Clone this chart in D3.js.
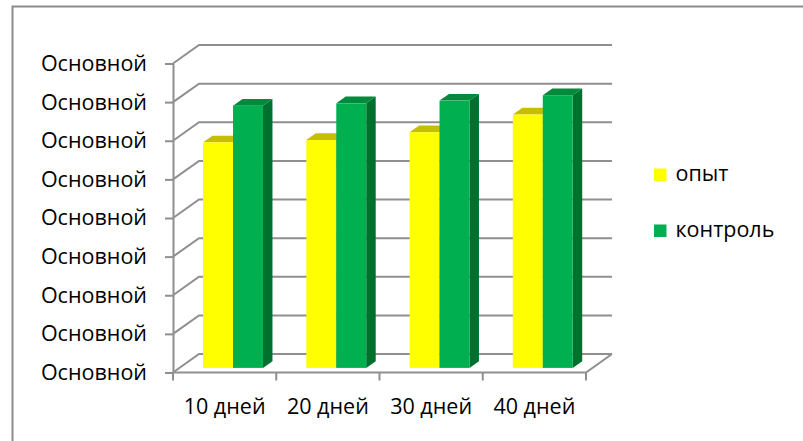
<!DOCTYPE html>
<html>
<head>
<meta charset="utf-8">
<title>опыт / контроль</title>
<script src="https://cdn.jsdelivr.net/npm/d3@7"></script>
<style>
    body{ margin:0; background:#fff; }
    svg{ display:block; font-family:"Open Sans", "Noto Sans", sans-serif; }
</style>
</head>
<body>
<svg id="chart" width="803" height="441"></svg>
<script>
// data
var categories = ["10 дней", "20 дней", "30 дней", "40 дней"];
var seriesNames = ["опыт", "контроль"];
var opyt = [58.4, 59.0, 61.0, 65.6];
var kontrol = [67.9, 68.5, 69.2, 70.6];
var yTicks = [0, 10, 20, 30, 40, 50, 60, 70, 80];
var yTickLabels = ["Основной", "Основной", "Основной", "Основной", "Основной",
                   "Основной", "Основной", "Основной", "Основной"];

var colors = {
    "опыт":     {front:"#ffff00", top:"#c6be00", side:"#a8a200"},
    "контроль": {front:"#00b050", top:"#008a3c", side:"#00702f"}
};

var svg = d3.select("#chart");
var gridColor = "#8f8f8f";
var fontSize = "21.5px";

// depth offsets (oblique 3d look)
var wall = {dx:26, dy:-18.5};
var face = {dx:8.4, dy:-4.6};
var depth = {dx:9.5, dy:-6.7};

var y = d3.scaleLinear().domain([0, 80]).range([372.5, 63.5]);
var x = d3.scaleBand().domain(categories).range([173, 586])
    .paddingInner(0.42).paddingOuter(0.21);
var xs = d3.scaleBand().domain(seriesNames).range([0, x.bandwidth()]);

// outer border
svg.append("rect")
    .attr("x", 12.5).attr("y", 6.5)
    .attr("width", 820).attr("height", 460)
    .attr("fill", "none")
    .attr("stroke", "#8c8c8c")
    .attr("stroke-width", 2);

// walls: side diagonals + back gridlines
var x0 = x.range()[0], x1 = x.range()[1];
svg.append("g").selectAll("path")
    .data(yTicks)
    .enter()
    .append("path")
    .attr("d", function(d) {
        var yy = y(d);
        return "M" + x0 + "," + yy +
               "L" + (x0 + wall.dx) + "," + (yy + wall.dy) +
               "L" + (x1 + wall.dx) + "," + (yy + wall.dy);
    })
    .attr("fill", "none")
    .attr("stroke", gridColor)
    .attr("stroke-width", 2);

// floor front edge and right diagonal
svg.append("path")
    .attr("d", "M" + x0 + "," + y(0) + "L" + x1 + "," + y(0) +
               "L" + (x1 + wall.dx) + "," + (y(0) + wall.dy))
    .attr("fill", "none")
    .attr("stroke", gridColor)
    .attr("stroke-width", 2);

// category boundary ticks
svg.append("g").selectAll("line")
    .data(d3.range(categories.length + 1))
    .enter()
    .append("line")
    .attr("x1", function(i) { return x0 + i * x.step(); })
    .attr("x2", function(i) { return x0 + i * x.step(); })
    .attr("y1", y(0))
    .attr("y2", y(0) + 8)
    .attr("stroke", gridColor)
    .attr("stroke-width", 2);

// y axis
var yAxis = d3.axisLeft(y)
    .tickValues(yTicks)
    .tickFormat(function(d, i) { return yTickLabels[i]; })
    .tickSizeInner(8)
    .tickSizeOuter(0)
    .tickPadding(18);
var gy = svg.append("g")
    .attr("transform", "translate(" + x0 + ",0)")
    .call(yAxis);
gy.selectAll("path, line").attr("stroke", gridColor).attr("stroke-width", 2);
gy.selectAll("text")
    .attr("fill", "#000")
    .style("font-size", fontSize)
    .style("font-family", "\"Open Sans\", sans-serif");

// category labels
svg.append("g").selectAll("text")
    .data(categories)
    .enter()
    .append("text")
    .attr("x", function(d) { return x(d) + x.bandwidth() / 2; })
    .attr("y", 414)
    .attr("text-anchor", "middle")
    .style("font-size", fontSize)
    .text(function(d) { return d; });

// bars
var rows = [];
categories.forEach(function(c, i) {
    rows.push({cat:c, s:"опыт", v:opyt[i]});
    rows.push({cat:c, s:"контроль", v:kontrol[i]});
});

var bars = svg.append("g").selectAll("g")
    .data(rows)
    .enter()
    .append("g");

function bx(d) { return x(d.cat) + xs(d.s) + face.dx; }
function by(d) { return y(d.v) + face.dy; }
function bb(d) { return y(0) + face.dy; }

bars.append("path")  // side
    .attr("d", function(d) {
        var r = bx(d) + xs.bandwidth();
        return "M" + r + "," + by(d) +
               "L" + (r + depth.dx) + "," + (by(d) + depth.dy) +
               "L" + (r + depth.dx) + "," + (bb(d) + depth.dy) +
               "L" + r + "," + bb(d) + "Z";
    })
    .attr("fill", function(d) { return colors[d.s].side; });

bars.append("path")  // top
    .attr("d", function(d) {
        var l = bx(d), r = l + xs.bandwidth();
        return "M" + l + "," + by(d) +
               "L" + (l + depth.dx) + "," + (by(d) + depth.dy) +
               "L" + (r + depth.dx) + "," + (by(d) + depth.dy) +
               "L" + r + "," + by(d) + "Z";
    })
    .attr("fill", function(d) { return colors[d.s].top; });

bars.append("rect")  // front
    .attr("x", bx)
    .attr("y", by)
    .attr("width", xs.bandwidth())
    .attr("height", function(d) { return bb(d) - by(d); })
    .attr("fill", function(d) { return colors[d.s].front; });

// legend
var legend = svg.append("g").selectAll("g")
    .data(seriesNames)
    .enter()
    .append("g")
    .attr("transform", function(d, i) { return "translate(654," + (168.5 + i * 56) + ")"; });

legend.append("rect")
    .attr("width", 12.5)
    .attr("height", 12.5)
    .attr("fill", function(d) { return colors[d].front; });

legend.append("text")
    .attr("x", 21.5)
    .attr("y", 12.5)
    .style("font-size", fontSize)
    .text(function(d) { return d; });
</script>
</body>
</html>
